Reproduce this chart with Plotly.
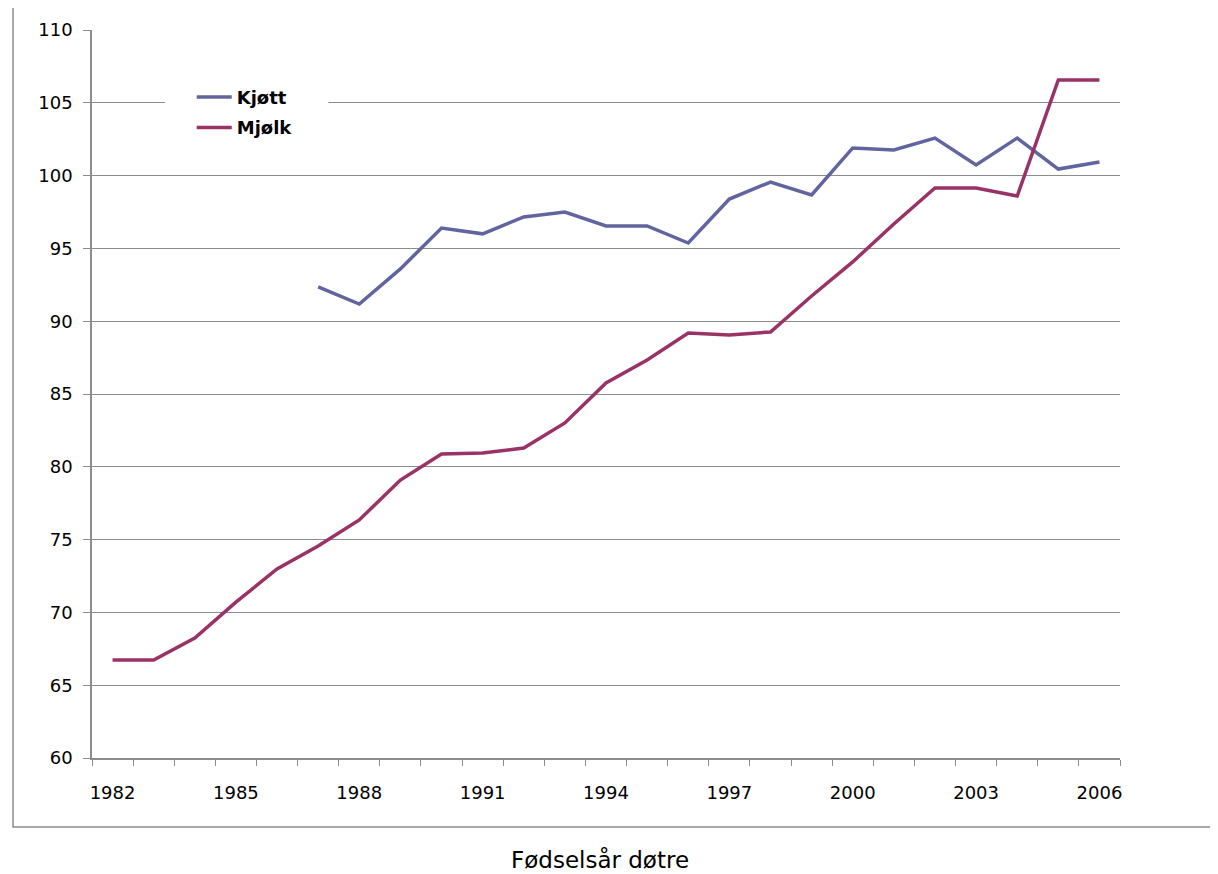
import plotly.graph_objects as go

years = list(range(1982, 2007))
kjott = [None, None, None, None, None,
         92.35, 91.18, 93.59, 96.4, 96.0, 97.16, 97.5, 96.54, 96.54, 95.37,
         98.39, 99.56, 98.67, 101.9, 101.76, 102.58, 100.73, 102.58, 100.45, 100.93]
mjolk = [66.73, 66.73, 68.24, 70.7, 72.98, 74.56, 76.35, 79.09, 80.88, 80.95,
         81.29, 83.01, 85.76, 87.34, 89.19, 89.05, 89.26, 91.73, 94.07, 96.68,
         99.15, 99.15, 98.6, 106.57, 106.57]
tick_years = [1982, 1985, 1988, 1991, 1994, 1997, 2000, 2003, 2006]

FONT = "DejaVu Sans"
GRID = "#8c8c8c"

fig = go.Figure()
fig.add_trace(go.Scatter(x=years, y=kjott, name="Kjøtt", mode="lines",
                         legendgroup="k",
                         line=dict(color="#6264a0", width=3.5)))
fig.add_trace(go.Scatter(x=years, y=mjolk, name="Mjølk", mode="lines",
                         legendgroup="m",
                         line=dict(color="#993366", width=3.5)))

# chart area border, like the Excel frame
fig.add_shape(type="rect", xref="paper", yref="paper",
              x0=-0.0768, x1=1.2, y0=-0.0948, y1=1.0316,
              line=dict(color="#8c8c8c", width=1.5), layer="below")

# white patch behind the legend (hides the 105 gridline there)
fig.add_shape(type="rect", xref="paper", yref="paper",
              x0=0.071, x1=0.23, y0=0.85, y1=0.93,
              fillcolor="white", line=dict(width=0), layer="above")

fig.add_annotation(text="Fødselsår døtre", xref="paper", yref="paper",
                   x=0.494, y=-0.140, yanchor="middle", showarrow=False,
                   font=dict(family=FONT, size=23, color="black"))

fig.update_layout(
    width=1202, height=866,
    margin=dict(l=84, r=90, t=22, b=116),
    plot_bgcolor="white", paper_bgcolor="white",
    font=dict(family=FONT, size=18, color="black"),
    showlegend=True,
    legend=dict(x=0.097, y=0.933, xanchor="left", yanchor="top",
                bgcolor="rgba(0,0,0,0)",
                font=dict(family=FONT, size=18, color="black", weight="bold"),
                itemwidth=35, tracegroupgap=4),
    xaxis=dict(range=[1981.5, 2006.5], tickvals=tick_years,
               ticktext=[str(y) for y in tick_years], ticks="",
               showgrid=False, showline=True, linecolor=GRID, linewidth=1.5,
               zeroline=False,
               minor=dict(ticks="outside", tick0=1981.5, dtick=1, ticklen=6,
                          tickcolor=GRID, showgrid=False),
               ticklabelstandoff=18),
    yaxis=dict(range=[60, 110], dtick=5, ticks="outside", ticklen=7,
               tickcolor=GRID, showgrid=True, gridcolor=GRID, gridwidth=1,
               showline=True, linecolor=GRID, linewidth=1.5, zeroline=False,
               ticklabelstandoff=7),
)

fig.write_html("out.html")
